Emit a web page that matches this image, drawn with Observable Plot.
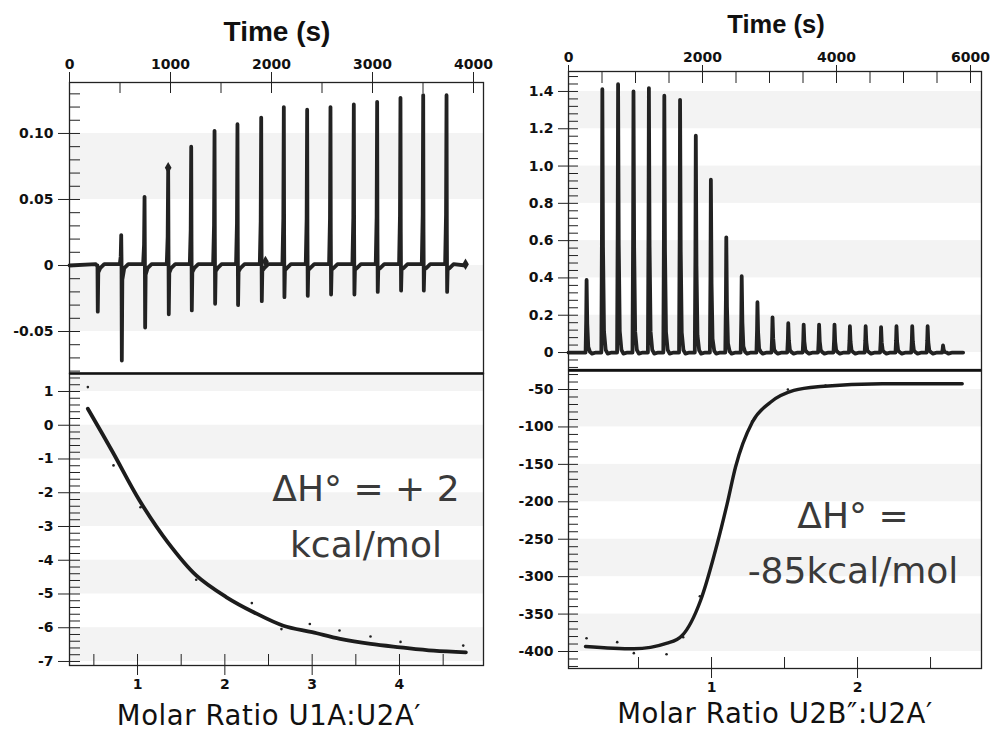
<!DOCTYPE html>
<html>
<head>
<meta charset="utf-8">
<script src="https://cdn.jsdelivr.net/npm/d3@7"></script>
<script src="https://cdn.jsdelivr.net/npm/@observablehq/plot@0.6"></script>
<style>
  html, body { margin: 0; padding: 0; background: #fff; }
  #wrap { position: relative; width: 990px; height: 731px; overflow: hidden; background: #fff; }
  #wrap svg { position: absolute; overflow: visible; background: transparent; max-width: none; }
  #wrap svg text { font-weight: bold; }
  .lbl { position: absolute; white-space: nowrap; transform: translateX(-50%); text-align: center; }
  .title { font-family: "Liberation Sans", Arial, sans-serif; font-weight: bold; color: #111; line-height: 1; }
  .xlab { font-family: "DejaVu Sans", sans-serif; color: #111; letter-spacing: 0.6px; }
  .dh { font-family: "DejaVu Sans", sans-serif; color: #3a3a3a; font-size: 36px; }
</style>
</head>
<body>
<div id="wrap"></div>
<script>
// ================= DATA =================
// Top-left thermogram (U1A titrated into U2A′): injection times (s) and peak extremes (µcal/s)
const injTimeL  = [274, 512, 743, 977, 1205, 1436, 1663, 1898, 2122, 2353, 2584, 2815, 3046, 3277, 3502, 3733];
const peakUpL   = [0, 0.023, 0.052, 0.073, 0.090, 0.102, 0.107, 0.112, 0.120, 0.118, 0.120, 0.122, 0.124, 0.127, 0.129, 0.129];
const peakDownL = [-0.035, -0.072, -0.047, -0.037, -0.034, -0.029, -0.030, -0.027, -0.024, -0.023, -0.022, -0.022, -0.020, -0.019, -0.019, -0.020];
const traceEndL = 3921;
const markerTimeL = [977, 1940, 3921];
const markerValL  = [0.074, 0.003, 0.001];

// Top-right thermogram (U2B″ titrated into U2A′)
const injTimeR = [270, 505, 740, 970, 1200, 1430, 1665, 1900, 2125, 2355, 2585, 2820, 3045, 3280, 3510, 3740, 3970, 4200, 4435, 4665, 4895, 5130, 5360, 5590];
const peakR    = [0.389, 1.412, 1.439, 1.400, 1.418, 1.377, 1.355, 1.163, 0.927, 0.618, 0.409, 0.270, 0.189, 0.157, 0.150, 0.150, 0.150, 0.141, 0.141, 0.136, 0.141, 0.141, 0.141, 0.038];
const traceEndR = 5890;

// Bottom-left binding isotherm (kcal/mol of injectant vs molar ratio U1A:U2A′)
const ratioPtsL = [0.431, 0.725, 1.034, 1.672, 2.309, 2.648, 2.973, 3.313, 3.668, 4.012, 4.730];
const heatPtsL  = [1.13, -1.19, -2.43, -4.58, -5.27, -6.04, -5.89, -6.08, -6.26, -6.42, -6.53];
const ratioFitL = [0.431, 0.717, 1.023, 1.347, 1.672, 2.015, 2.33, 2.67, 3.00, 3.32, 3.67, 4.01, 4.39, 4.76];
const heatFitL  = [0.49, -0.80, -2.23, -3.47, -4.45, -5.09, -5.54, -5.94, -6.13, -6.33, -6.48, -6.58, -6.68, -6.73];

// Bottom-right binding isotherm (molar ratio U2B″:U2A′)
const ratioPtsR = [0.144, 0.354, 0.468, 0.692, 0.806, 0.920, 1.279, 1.523, 1.781];
const heatPtsR  = [-382.2, -387.5, -402.2, -403.6, -380.9, -326.1, -92.3, -50.0, -44.7];
const ratioFitR = [0.137, 0.468, 0.696, 0.799, 0.925, 1.039, 1.107, 1.164, 1.279, 1.404, 1.564, 1.747, 2.169, 2.717];
const heatFitR  = [-393.3, -396.4, -388.9, -378.6, -331.9, -256.1, -202.7, -153.8, -93.7, -67.0, -51.3, -46.0, -42.4, -42.4];

// Tick values & labels
const tlXTicks = [0, 1000, 2000, 3000, 4000];
const tlXLabels = ["0", "1000", "2000", "3000", "4000"];
const tlYTicks = [-0.05, 0, 0.05, 0.10];
const tlYLabels = ["-0.05", "0", "0.05", "0.10"];
const trXTicks = [0, 2000, 4000, 6000];
const trXLabels = ["0", "2000", "4000", "6000"];
const trYTicks = [0, 0.2, 0.4, 0.6, 0.8, 1.0, 1.2, 1.4];
const trYLabels = ["0", "0.2", "0.4", "0.6", "0.8", "1.0", "1.2", "1.4"];
const blXTicks = [1, 2, 3, 4];
const blXLabels = ["1", "2", "3", "4"];
const blYTicks = [1, 0, -1, -2, -3, -4, -5, -6, -7];
const blYLabels = ["1", "0", "-1", "-2", "-3", "-4", "-5", "-6", "-7"];
const brXTicks = [1, 2];
const brXLabels = ["1", "2"];
const brYTicks = [-50, -100, -150, -200, -250, -300, -350, -400];
const brYLabels = ["-50", "-100", "-150", "-200", "-250", "-300", "-350", "-400"];

// Background band intervals (alternating shading)
const bandsTL = [[0.05, 0.10], [-0.05, 0]];
const bandsTR = [[1.2, 1.4], [0.8, 1.0], [0.4, 0.6], [0, 0.2]];
const bandsBL = [[1, 1.533], [-1, 0], [-3, -2], [-5, -4], [-7, -6]];
const bandsBR = [[-100, -50], [-200, -150], [-300, -250], [-400, -350]];

// ================= BUILD =================
const INK = "#222";
const BAND = "#f3f3f3";
const wrap = document.getElementById("wrap");

function traceLeft() {
  const pts = [{t: 0, v: 0}];
  injTimeL.forEach((t, i) => {
    const up = peakUpL[i], dn = peakDownL[i];
    pts.push({t: t - 14, v: 0.001}, {t: t - 5, v: up * 0.3}, {t: t, v: up}, {t: t + 3, v: up * 0.2},
             {t: t + 6, v: dn}, {t: t + 11, v: dn * 0.15}, {t: t + 30, v: -0.002}, {t: t + 70, v: 0.001});
  });
  pts.push({t: traceEndL, v: 0});
  return pts;
}
function traceRight() {
  const pts = [{t: 0, v: 0}];
  injTimeR.forEach((t, i) => {
    const h = peakR[i];
    pts.push({t: t - 15, v: 0}, {t: t - 6, v: 0.45 * h}, {t: t, v: h}, {t: t + 10, v: 0.4 * h},
             {t: t + 25, v: 0.08 * h}, {t: t + 50, v: 0.01 * h}, {t: t + 80, v: -0.006}, {t: t + 140, v: 0});
  });
  pts.push({t: traceEndR, v: 0});
  return pts;
}
const fmt = (ticks, labels) => d => labels[ticks.findIndex(v => Math.abs(v - d) < 1e-9)];
const rangeStep = (a, b, s, k) => d3.range(Math.round(a * k), Math.round(b * k) + 1, Math.round(s * k)).map(v => v / k);
const bandRows = (b, xd) => b.map(([lo, hi]) => ({lo, hi, x1: xd[0], x2: xd[1]}));

function place(svg, left, top) {
  svg.style.left = left + "px";
  svg.style.top = top + "px";
  wrap.appendChild(svg);
}
const baseStyle = {fontFamily: "'DejaVu Sans', sans-serif", fontSize: "14px", fontWeight: "bold", color: "#111", background: "transparent", overflow: "visible"};
const tickText = {fontWeight: "bold", fontSize: 14, fill: "#111"};

// Axis helpers: labels via Plot axes (no built-in tick lines), tick lines via tick marks
function yAxisMarks(ticks, labels, minor, iw, outLen, inLen) {
  return [
    Plot.axisY({anchor: "left", ticks, tickSize: 0, tickPadding: outLen + 5, tickFormat: fmt(ticks, labels), label: null, ...tickText}),
    Plot.tickY(ticks, {y: d => d, insetLeft: -outLen, insetRight: iw, stroke: INK}),
    Plot.tickY(minor, {y: d => d, insetRight: iw - inLen, stroke: INK})
  ];
}
function xAxisMarks(anchor, ticks, labels, minor, ih, outLen, inLen) {
  const out = anchor === "top" ? {insetTop: -outLen, insetBottom: ih} : {insetBottom: -outLen, insetTop: ih};
  const inn = anchor === "top" ? {insetBottom: ih - inLen} : {insetTop: ih - inLen};
  return [
    Plot.axisX({anchor, ticks, tickSize: 0, tickPadding: outLen + 4, tickFormat: fmt(ticks, labels), label: null, ...tickText}),
    Plot.tickX(ticks, {x: d => d, ...out, stroke: INK}),
    Plot.tickX(minor, {x: d => d, ...inn, stroke: INK})
  ];
}

// ---- Top-left ----
{
  const W = 495, H = 374, mL = 69, mR = 12, mT = 82, mB = 1;
  const xd = [0, 4099], yd = [-0.0818, 0.1386];
  const iw = W - mL - mR, ih = H - mT - mB;
  const markers = markerTimeL.map((t, i) => ({t, v: markerValL[i]}));
  const svg = Plot.plot({
    width: W, height: H, marginLeft: mL, marginRight: mR, marginTop: mT, marginBottom: mB,
    x: {domain: xd}, y: {domain: yd}, style: baseStyle,
    marks: [
      Plot.rect(bandRows(bandsTL, xd), {x1: "x1", x2: "x2", y1: "lo", y2: "hi", fill: BAND}),
      Plot.line(traceLeft(), {x: "t", y: "v", stroke: INK, strokeWidth: 3.8, strokeLinejoin: "round"}),
      Plot.dot(markers, {x: "t", y: "v", symbol: "diamond", r: 3.5, fill: INK}),
      Plot.frame({stroke: INK, strokeWidth: 1.3}),
      ...xAxisMarks("top", tlXTicks, tlXLabels, rangeStep(0, 4000, 500, 1), ih, 10, 11),
      ...yAxisMarks(tlYTicks, tlYLabels, rangeStep(-0.08, 0.13, 0.01, 100), iw, 11, 11)
    ]
  });
  place(svg, 0, 0);
}

// ---- Top-right ----
{
  const W = 495, H = 370, mL = 73, mR = 9, mT = 71, mB = 1;
  const xd = [0, 6164], yd = [-0.091, 1.507];
  const iw = W - mL - mR, ih = H - mT - mB;
  const svg = Plot.plot({
    width: W, height: H, marginLeft: mL, marginRight: mR, marginTop: mT, marginBottom: mB,
    x: {domain: xd}, y: {domain: yd}, style: baseStyle,
    marks: [
      Plot.rect(bandRows(bandsTR, xd), {x1: "x1", x2: "x2", y1: "lo", y2: "hi", fill: BAND}),
      Plot.line(traceRight(), {x: "t", y: "v", stroke: INK, strokeWidth: 3.8, strokeLinejoin: "round"}),
      Plot.frame({stroke: INK, strokeWidth: 1.3}),
      ...xAxisMarks("top", trXTicks, trXLabels, rangeStep(0, 6000, 500, 1), ih, 6, 12),
      ...yAxisMarks(trYTicks, trYLabels, rangeStep(-0.08, 1.48, 0.04, 100), iw, 10, 10)
    ]
  });
  place(svg, 495, 0);
}

// ---- Bottom-left ----
{
  const W = 495, H = 359, mL = 69, mR = 12, mT = 1, mB = 66;
  const xd = [0.221, 4.962], yd = [-7.119, 1.533];
  const iw = W - mL - mR, ih = H - mT - mB;
  const pts = ratioPtsL.map((x, i) => ({x, y: heatPtsL[i]}));
  const fit = ratioFitL.map((x, i) => ({x, y: heatFitL[i]}));
  const svg = Plot.plot({
    width: W, height: H, marginLeft: mL, marginRight: mR, marginTop: mT, marginBottom: mB,
    x: {domain: xd}, y: {domain: yd}, style: baseStyle,
    marks: [
      Plot.rect(bandRows(bandsBL, xd), {x1: "x1", x2: "x2", y1: "lo", y2: "hi", fill: BAND}),
      Plot.dot(pts, {x: "x", y: "y", r: 1.3, fill: INK}),
      Plot.line(fit, {x: "x", y: "y", curve: "catmull-rom", stroke: "#1c1c1c", strokeWidth: 3.8, strokeLinecap: "round"}),
      Plot.frame({stroke: INK, strokeWidth: 1.3}),
      Plot.ruleY([yd[1]], {stroke: "#111", strokeWidth: 2.5}),
      ...xAxisMarks("bottom", blXTicks, blXLabels, rangeStep(0.5, 4.5, 0.5, 10), ih, 10, 11),
      ...yAxisMarks(blYTicks, blYLabels, rangeStep(-7, 1.4, 0.2, 10), iw, 11, 11)
    ]
  });
  place(svg, 0, 372);
}

// ---- Bottom-right ----
{
  const W = 495, H = 362, mL = 73, mR = 9, mT = 1, mB = 63;
  const xd = [0.0205, 2.849], yd = [-422.7, -24.6];
  const iw = W - mL - mR, ih = H - mT - mB;
  const pts = ratioPtsR.map((x, i) => ({x, y: heatPtsR[i]}));
  const fit = ratioFitR.map((x, i) => ({x, y: heatFitR[i]}));
  const svg = Plot.plot({
    width: W, height: H, marginLeft: mL, marginRight: mR, marginTop: mT, marginBottom: mB,
    x: {domain: xd}, y: {domain: yd}, style: baseStyle,
    marks: [
      Plot.rect(bandRows(bandsBR, xd), {x1: "x1", x2: "x2", y1: "lo", y2: "hi", fill: BAND}),
      Plot.dot(pts, {x: "x", y: "y", r: 1.3, fill: INK}),
      Plot.line(fit, {x: "x", y: "y", curve: "monotone-x", stroke: "#1c1c1c", strokeWidth: 3.4, strokeLinecap: "round"}),
      Plot.frame({stroke: INK, strokeWidth: 1.3}),
      Plot.ruleY([yd[1]], {stroke: "#111", strokeWidth: 2.5}),
      ...xAxisMarks("bottom", brXTicks, brXLabels, rangeStep(0.5, 2.5, 0.5, 10), ih, 10, 11),
      ...yAxisMarks(brYTicks, brYLabels, rangeStep(-420, -30, 10, 1), iw, 10, 10)
    ]
  });
  place(svg, 495, 369);
}

// ================= TEXT =================
function label(cls, text, cx, top, size, lh) {
  const d = document.createElement("div");
  d.className = "lbl " + cls;
  d.style.left = cx + "px";
  d.style.top = top + "px";
  if (size) d.style.fontSize = size + "px";
  if (lh) d.style.lineHeight = lh + "px";
  d.innerHTML = text;
  wrap.appendChild(d);
}
label("title", "Time (s)", 277, 18, 28);
label("title", "Time (s)", 776, 12, 25.5);
label("xlab", "Molar Ratio U1A:U2A′", 269, 702.5, 27.5, 24);
label("xlab", "Molar Ratio U2B″:U2A′", 775, 701, 27.5, 24);
label("dh", "ΔH° = + 2<br>kcal/mol", 366, 460.5, 36, 56);
label("dh", "ΔH° =<br>-85kcal/mol", 853, 488, 36, 55);
</script>
</body>
</html>
